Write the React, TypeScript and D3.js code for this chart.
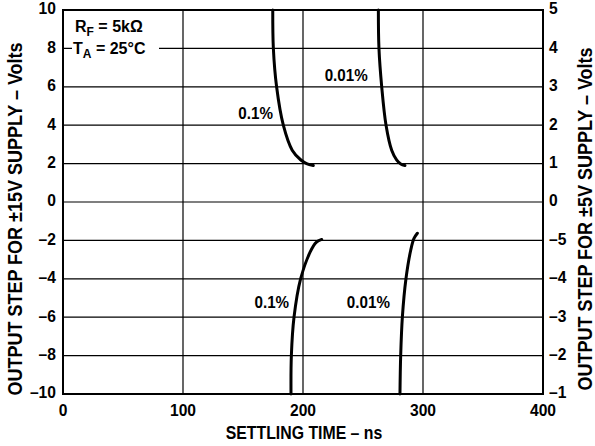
import React from "react";
import * as d3 from "d3";

const xTicks = [0, 100, 200, 300, 400];
const yTicksLeft = [10, 8, 6, 4, 2, 0, -2, -4, -6, -8, -10];
const yTicksRightLabels = ["5", "4", "3", "2", "1", "0", "–5", "–4", "–3", "–2", "–1"];

// [time ns, volts]
const upper01 = [[174.8, 10], [175.3, 8], [178, 6], [183.6, 4], [191, 2.7], [198, 2.2], [203, 2.0], [208.6, 1.9]];
const upper001 = [[262.8, 10], [263.3, 8], [265.6, 6], [269.2, 4], [273.9, 2.7], [278, 2.2], [281.5, 1.98], [285, 1.9]];
const lower01 = [[190, -10], [190.3, -8], [192.5, -6], [198, -4], [206, -2.6], [211, -2.1], [215.6, -1.95]];
const lower001 = [[280.8, -10], [281.4, -8], [282.8, -6], [285.8, -4], [289.8, -2.5], [292.5, -1.9], [295.3, -1.63]];

const curveLabels = [
  { text: "0.1%", t: 160.5, v: 4.55 },
  { text: "0.01%", t: 236, v: 6.5 },
  { text: "0.1%", t: 174, v: -5.3 },
  { text: "0.01%", t: 254.5, v: -5.3 },
];

const W = 595, H = 446;
const left = 63, right = 543, top = 10, bottom = 394;

function T({ x, y, fs, sx = 1, rot = 0, anchor = "middle", baseline = "auto", children }: any) {
  return (
    <text
      transform={`translate(${x},${y}) rotate(${rot}) scale(${sx},1)`}
      fontSize={fs}
      textAnchor={anchor}
      dominantBaseline={baseline}
    >
      {children}
    </text>
  );
}

export default function App() {
  const x = d3.scaleLinear().domain([0, 400]).range([left, right]);
  const y = d3.scaleLinear().domain([-10, 10]).range([bottom, top]);
  const line = d3.line<number[]>().x(d => x(d[0])).y(d => y(d[1])).curve(d3.curveCatmullRom.alpha(0.5));
  const font = "'Liberation Sans', Arial, Helvetica, sans-serif";
  return (
    <svg width={W} height={H} style={{ position: "absolute", left: 0, top: 0 }} fontFamily={font} fontWeight="bold">
      <rect width={W} height={H} fill="white" />
      {xTicks.slice(1, -1).map(t => (
        <line key={"gx" + t} x1={x(t)} x2={x(t)} y1={top} y2={bottom} stroke="black" strokeWidth={1.2} />
      ))}
      {yTicksLeft.slice(1, -1).map(v => (
        <line key={"gy" + v} x1={left} x2={right} y1={y(v)} y2={y(v)} stroke="black" strokeWidth={1.2} />
      ))}
      <rect x={72} y={y(8) - 4} width={87} height={10} fill="white" />
      <rect x={left} y={top} width={right - left} height={bottom - top} fill="none" stroke="black" strokeWidth={2} />
      {[upper01, upper001, lower01, lower001].map((d, i) => (
        <path key={"c" + i} d={line(d) || ""} fill="none" stroke="black" strokeWidth={3} strokeLinecap="round" />
      ))}
      {curveLabels.map((l, i) => (
        <T key={"l" + i} x={x(l.t)} y={y(l.v)} fs={16} sx={0.95} baseline="middle">{l.text}</T>
      ))}
      <T x={75} y={32} fs={16} sx={1} anchor="start">
        R<tspan fontSize={12} dy={3.5}>F</tspan><tspan dy={-3.5}> = 5kΩ</tspan>
      </T>
      <T x={73} y={54} fs={16} sx={1} anchor="start">
        T<tspan fontSize={12} dy={3.5}>A</tspan><tspan dy={-3.5}> = 25°C</tspan>
      </T>
      {yTicksLeft.map(v => (
        <T key={"yl" + v} x={56} y={y(v)} fs={17} sx={0.92} anchor="end" baseline="middle">
          {v < 0 ? "–" + Math.abs(v) : String(v)}
        </T>
      ))}
      {yTicksLeft.map((v, i) => (
        <T key={"yr" + v} x={549} y={y(v)} fs={17} sx={0.92} anchor="start" baseline="middle">
          {yTicksRightLabels[i]}
        </T>
      ))}
      {xTicks.map(t => (
        <T key={"xl" + t} x={x(t)} y={416} fs={17} sx={0.92}>{t}</T>
      ))}
      <T x={304} y={439} fs={18} sx={0.88}>SETTLING TIME – ns</T>
      <T x={22} y={219} fs={20} sx={0.9} rot={-90}>
        OUTPUT STEP FOR ±15V SUPPLY – Volts
      </T>
      <T x={592} y={219} fs={20} sx={0.9} rot={-90}>
        OUTPUT STEP FOR ±5V SUPPLY – Volts
      </T>
    </svg>
  );
}
